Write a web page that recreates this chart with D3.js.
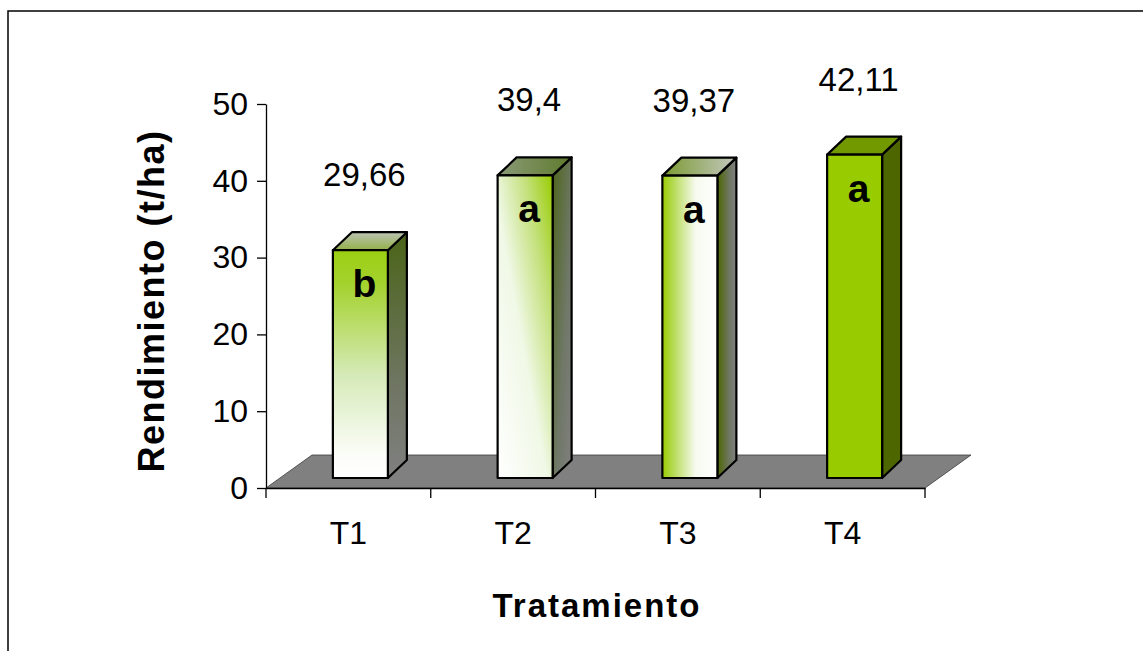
<!DOCTYPE html>
<html>
<head>
<meta charset="utf-8">
<script src="https://cdn.jsdelivr.net/npm/d3@7"></script>
<style>
  body { margin: 0; background: #fff; }
  svg { display: block; }
  text { font-family: "Liberation Sans", Arial, Helvetica, sans-serif; fill: #000; }
</style>
</head>
<body>
<svg id="chart" width="1143" height="651"></svg>
<script>
// Rendimiento por tratamiento (t/ha)
const categories = ["T1", "T2", "T3", "T4"];
const values = [29.66, 39.4, 39.37, 42.11];
const groups = ["b", "a", "a", "a"];       // letras de significancia
const yTicks = [0, 10, 20, 30, 40, 50];

// Relleno de cada barra: dirección del degradado de la cara frontal
const fillStyles = ["vertical", "diagonal", "horizontal", "solid"];

const svg = d3.select("#chart");
const W = 1143, H = 651;

// marco exterior
svg.append("rect").attr("x", 8).attr("y", 11).attr("width", W).attr("height", H)
  .attr("fill", "#fff").attr("stroke", "#000").attr("stroke-width", 1.5);

const plot = { left: 266, right: 925, top: 104, bottom: 488 };
const x = d3.scaleBand().domain(categories).range([plot.left, plot.right]).padding(0);
const y = d3.scaleLinear().domain([0, 50]).range([plot.bottom, plot.top]);

// profundidad del piso y de las barras
const floorDX = 46, floorDY = -33;
const barShiftX = 12, barShiftY = -10;    // plano frontal de las barras
const barDX = 19, barDY = -18;            // profundidad de cada barra
const barW = 55;

// ---- degradados ----
const defs = svg.append("defs");
const GREEN = "#99cc00", DARK = "#4d6600", GREY = "#808080";

function lin(id, x1, y1, x2, y2, stops) {
  const g = defs.append("linearGradient").attr("id", id)
    .attr("x1", x1).attr("y1", y1).attr("x2", x2).attr("y2", y2);
  stops.forEach(s => g.append("stop").attr("offset", s[0]).attr("stop-color", s[1]));
}
// T1: vertical
lin("f-vertical", 0, 0, 0, 1, [[0, "#9ccf12"], [0.15, "#a4d22e"], [0.55, "#d6eab8"], [0.9, "#fcfdf9"], [1, "#ffffff"]]);
lin("s-vertical", 0, 0, 0, 1, [[0, "#4a6418"], [0.6, "#6e7560"], [1, GREY]]);
lin("t-vertical", 0, 1, 0, 0, [[0, "#93b048"], [1, "#bcc4b4"]]);
// T2: diagonal
lin("f-diagonal", 0, 1, 1, 0, [[0, "#ffffff"], [0.45, "#f0f8e6"], [0.75, "#c3e07a"], [1, "#99cc00"]]);
lin("s-diagonal", 0, 0, 1, 1, [[0, "#4d661a"], [0.6, "#707868"], [1, GREY]]);
lin("t-diagonal", 0, 0, 1, 0, [[0, "#8a9a78"], [1, "#5f7a2c"]]);
// T3: horizontal
lin("f-horizontal", 0, 0, 1, 0, [[0, GREEN], [0.2, "#b6da55"], [0.6, "#f6faee"], [1, "#ffffff"]]);
lin("s-horizontal", 0, 0, 1, 0, [[0, DARK], [0.6, "#6e7660"], [1, GREY]]);
lin("t-horizontal", 0, 0, 1, 0, [[0, "#7a9a30"], [1, "#c4c8c0"]]);
// T4: sólido
lin("f-solid", 0, 0, 0, 1, [[0, GREEN], [1, GREEN]]);
lin("s-solid", 0, 0, 0, 1, [[0, DARK], [1, DARK]]);
lin("t-solid", 0, 0, 0, 1, [[0, "#739900"], [1, "#739900"]]);

// ---- piso ----
svg.append("path")
  .attr("d", `M${plot.left},${plot.bottom} L${plot.right},${plot.bottom} L${plot.right + floorDX},${plot.bottom + floorDY} L${plot.left + floorDX},${plot.bottom + floorDY} Z`)
  .attr("fill", GREY).attr("stroke", "#3a3a3a").attr("stroke-width", 0.8);

// ---- barras 3D ----
const bars = svg.append("g");
categories.forEach((c, i) => {
  const v = values[i];
  const st = fillStyles[i];
  const x0 = x(c) + x.bandwidth() / 2 - barW / 2 + barShiftX;
  const x1 = x0 + barW;
  const yb = y(0) + barShiftY;
  const yt = y(v) + barShiftY;
  const g = bars.append("g").attr("stroke", "#000").attr("stroke-width", 2.2).attr("stroke-linejoin", "round");
  // cara lateral
  g.append("path")
    .attr("d", `M${x1},${yt} L${x1 + barDX},${yt + barDY} L${x1 + barDX},${yb + barDY} L${x1},${yb} Z`)
    .attr("fill", `url(#s-${st})`);
  // cara superior
  g.append("path")
    .attr("d", `M${x0},${yt} L${x0 + barDX},${yt + barDY} L${x1 + barDX},${yt + barDY} L${x1},${yt} Z`)
    .attr("fill", `url(#t-${st})`);
  // cara frontal
  g.append("rect").attr("x", x0).attr("y", yt).attr("width", barW).attr("height", yb - yt)
    .attr("fill", `url(#f-${st})`);

  // letra de significancia
  svg.append("text")
    .attr("x", x0 + barW / 2 + 4).attr("y", yt + 47)
    .attr("text-anchor", "middle").attr("font-size", 39).attr("font-weight", "bold")
    .text(groups[i]);

  // valor
  svg.append("text")
    .attr("x", x0 + barW / 2 + 4).attr("y", yt - 64)
    .attr("text-anchor", "middle").attr("font-size", 33)
    .text(String(v).replace(".", ","));
});

// ---- ejes ----
const yAxis = svg.append("g").attr("transform", `translate(${plot.left},0)`)
  .call(d3.axisLeft(y).tickValues(yTicks).tickSize(9).tickSizeOuter(0).tickPadding(9).tickFormat(d3.format("d")));
yAxis.select(".domain").attr("stroke", "#000").attr("stroke-width", 1.3);
yAxis.selectAll(".tick line").attr("stroke", "#000").attr("stroke-width", 1.3);
yAxis.selectAll(".tick text").attr("font-size", 32).attr("font-family", "Liberation Sans, Arial, sans-serif").attr("fill", "#000");

const xAxis = svg.append("g").attr("transform", `translate(0,${plot.bottom})`)
  .call(d3.axisBottom(x).tickSize(0).tickPadding(33));
xAxis.select(".domain").attr("stroke", "#000").attr("stroke-width", 1.3);
xAxis.selectAll(".tick text").attr("font-size", 32).attr("font-family", "Liberation Sans, Arial, sans-serif").attr("fill", "#000");

// marcas entre categorías
const bounds = categories.map(c => x(c)).concat([x.range()[1]]);
svg.append("g").selectAll("line").data(bounds).join("line")
  .attr("x1", d => d).attr("x2", d => d)
  .attr("y1", plot.bottom).attr("y2", plot.bottom + 10)
  .attr("stroke", "#000").attr("stroke-width", 1.3);

// ---- títulos ----
svg.append("text")
  .attr("x", 597).attr("y", 617)
  .attr("text-anchor", "middle").attr("font-size", 33).attr("font-weight", "bold")
  .attr("letter-spacing", 2)
  .text("Tratamiento");

svg.append("text")
  .attr("transform", "translate(164,301) rotate(-90)")
  .attr("text-anchor", "middle").attr("font-size", 36).attr("font-weight", "bold")
  .attr("letter-spacing", 1.5)
  .text("Rendimiento (t/ha)");
</script>
</body>
</html>
